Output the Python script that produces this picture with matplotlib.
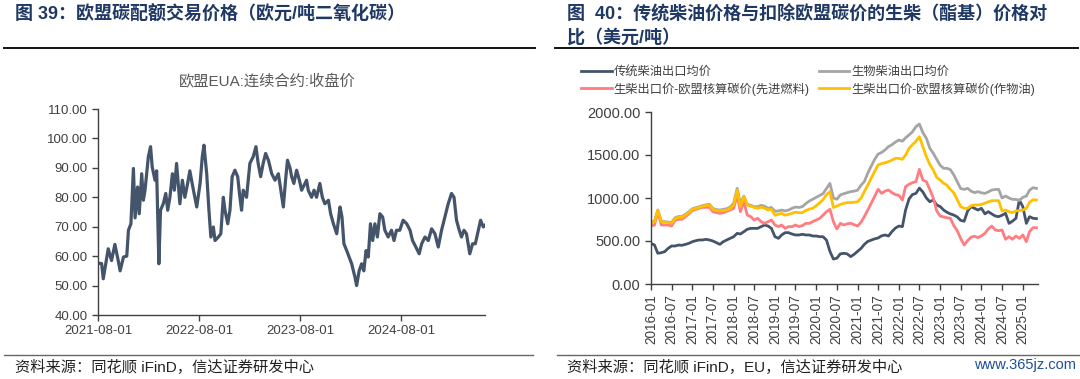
import matplotlib
matplotlib.use('Agg')
import matplotlib.pyplot as plt
import matplotlib.dates as mdates
from matplotlib.ticker import FormatStrFormatter
from matplotlib.lines import Line2D
import pandas as pd

plt.rcParams['font.family'] = ['Liberation Sans', 'Noto Sans CJK SC']

# ---- 左图：欧盟EUA收盘价（日期 = 2021-08-01 之后的天数）----
eua_day = [0, 13, 19, 28, 37, 49, 61, 73, 80, 92, 104, 110, 119, 128, 134, 143, 149, 158, 164, 170,
           182, 190, 196, 206, 212, 220, 226, 236, 245, 252, 260, 269, 276, 284, 296, 305, 314, 324,
           332, 345, 357, 369, 377, 383, 393, 401, 408, 417, 423, 435, 444, 453, 459, 469, 477, 485,
           495, 505, 513, 519, 525, 537, 549, 561, 571, 579, 588, 597, 606, 616, 628, 640, 652, 661,
           670, 678, 685, 694, 700, 708, 718, 728, 736, 748, 754, 760, 772, 781, 790, 802, 811, 820,
           833, 841, 851, 863, 875, 882, 889, 899, 908, 917, 929, 935, 944, 953, 961, 969, 977, 985,
           993, 1001, 1010, 1019, 1029, 1037, 1049, 1061, 1070, 1079, 1091, 1103, 1116, 1128, 1137,
           1149, 1161, 1170, 1182, 1194, 1206, 1218, 1230, 1242, 1254, 1266, 1278, 1287, 1296, 1306,
           1314, 1323, 1332, 1344, 1354, 1364, 1375, 1383, 1393, 1399]
eua_close = [57.6, 57.5, 52.3, 57.5, 62.5, 58.5, 64.0, 58.5, 55.0, 59.7, 60.0, 68.8, 71.0, 89.8, 73.0,
             83.5, 74.4, 88.0, 79.0, 82.4, 93.8, 97.2, 90.3, 85.8, 89.0, 57.4, 75.6, 77.8, 81.3, 75.6,
             80.0, 88.0, 82.4, 91.5, 77.8, 85.8, 80.0, 84.7, 89.0, 82.4, 76.7, 84.7, 93.8, 97.7, 88.0,
             75.6, 66.5, 69.9, 65.3, 66.5, 67.6, 80.0, 75.6, 71.0, 75.6, 87.0, 89.2, 87.0, 80.0, 75.6,
             82.4, 80.0, 91.5, 93.8, 97.2, 91.5, 87.0, 91.5, 94.9, 92.6, 88.0, 85.8, 88.0, 82.4, 76.7,
             85.8, 92.6, 90.0, 87.0, 84.7, 89.2, 85.8, 82.4, 84.7, 85.8, 82.4, 80.0, 82.4, 80.0, 84.7,
             80.0, 77.8, 79.0, 74.4, 71.0, 67.6, 76.7, 73.3, 64.2, 61.9, 59.7, 57.4, 52.8, 50.0, 55.0,
             57.4, 55.0, 61.9, 59.7, 71.0, 65.3, 71.0, 66.5, 74.4, 73.3, 68.8, 66.5, 68.8, 65.3, 68.8,
             68.8, 72.2, 71.0, 68.8, 65.3, 63.1, 60.8, 64.2, 66.5, 65.3, 69.3, 67.6, 63.1, 68.8, 73.3,
             77.8, 81.3, 80.0, 72.2, 68.8, 66.5, 68.8, 67.6, 60.8, 64.2, 64.2, 68.8, 72.2, 69.9, 70.5]
eua_ticks = ['2021-08-01', '2022-08-01', '2023-08-01', '2024-08-01']

# ---- 右图：月度价格，2016-01 至 2025-05（美元/吨）----
diesel_export = [473, 453, 357, 364, 376, 415, 442, 442, 453, 450, 461, 473,
                 492, 504, 512, 512, 519, 512, 500, 481, 461, 492, 512, 531,
                 550, 589, 581, 608, 636, 647, 647, 647, 667, 686, 674, 647,
                 550, 531, 570, 597, 597, 581, 570, 570, 578, 570, 570, 558,
                 558, 550, 550, 510, 380, 290, 300, 350, 357, 350, 318, 345,
                 380, 415, 460, 495, 510, 525, 535, 560, 570, 558, 610, 650,
                 674, 667, 860, 990, 1040, 1054, 1115, 1070, 1000, 957, 977, 920,
                 900, 860, 835, 815, 802, 780, 740, 730, 850, 900, 880, 860,
                 880, 815, 841, 815, 791, 783, 800, 822, 705, 730, 764, 977,
                 899, 705, 783, 764, 760]
biodiesel_export = [715, 730, 860, 730, 725, 720, 715, 770, 785, 785, 812, 840,
                    875, 888, 898, 912, 920, 926, 878, 865, 860, 868, 875, 895,
                    940, 1112, 938, 1023, 926, 915, 899, 899, 915, 905, 880, 890,
                    845, 850, 860, 849, 860, 880, 895, 890, 900, 935, 965, 985,
                    1008, 1030, 1050, 1112, 1170, 1000, 985, 1035, 1050, 1062, 1074, 1080,
                    1090, 1150, 1190, 1290, 1370, 1450, 1510, 1530, 1560, 1597, 1620, 1650,
                    1674, 1660, 1700, 1733, 1770, 1830, 1860, 1760, 1694, 1580, 1519, 1450,
                    1380, 1345, 1345, 1330, 1270, 1190, 1110, 1100, 1112, 1080, 1062, 1074,
                    1060, 1054, 1070, 1093, 1098, 1101, 1000, 1023, 1000, 984, 984, 970,
                    1008, 1023, 1090, 1120, 1112]
net_advanced = [674, 686, 841, 686, 686, 686, 674, 740, 752, 752, 783, 815,
                853, 868, 880, 891, 891, 891, 841, 830, 822, 829, 845, 860,
                880, 1035, 841, 957, 802, 783, 744, 764, 725, 705, 725, 744,
                686, 667, 686, 647, 667, 667, 686, 667, 680, 705, 705, 725,
                744, 764, 800, 841, 868, 725, 640, 705, 686, 700, 705, 690,
                674, 720, 783, 860, 938, 1020, 1101, 1054, 1080, 1093, 1062, 1040,
                1030, 977, 1132, 1160, 1178, 1190, 1333, 1209, 1190, 1100, 1000, 850,
                790, 780, 770, 764, 680, 620, 530, 453, 505, 545, 555, 539,
                560, 590, 640, 674, 630, 620, 628, 520, 550, 520, 558, 531,
                570, 492, 610, 655, 655]
net_crop = [705, 725, 860, 725, 718, 713, 705, 760, 775, 775, 802, 830,
            868, 880, 890, 905, 912, 919, 868, 855, 849, 855, 860, 880,
            920, 1093, 899, 1015, 919, 905, 890, 880, 895, 880, 860, 870,
            800, 810, 822, 800, 810, 822, 835, 830, 830, 855, 870, 880,
            910, 945, 980, 1040, 1074, 890, 905, 925, 938, 946, 946, 950,
            957, 1000, 1074, 1150, 1229, 1310, 1384, 1400, 1410, 1422, 1440, 1461,
            1461, 1450, 1500, 1577, 1620, 1660, 1713, 1597, 1480, 1390, 1326, 1240,
            1209, 1170, 1151, 1100, 1060, 980, 900, 880, 880, 910, 919, 919,
            925, 940, 955, 969, 969, 969, 850, 860, 840, 830, 849, 855,
            860, 880, 950, 980, 977]
series_labels = ['传统柴油出口均价', '生物柴油出口均价',
                 '生柴出口价-欧盟核算碳价(先进燃料)', '生柴出口价-欧盟核算碳价(作物油)']
series_colors = ['#44546A', '#A5A5A5', '#FF7C80', '#FFC000']

W, H = 1080, 379
fig = plt.figure(figsize=(W / 100, H / 100), dpi=100)
TXT = '#404040'
TITLE_C = '#1F3864'


def fx(px):
    return px / W


def fy(py):
    return 1 - py / H


def style_axes(ax):
    for s in ['top', 'right']:
        ax.spines[s].set_visible(False)
    for s in ['left', 'bottom']:
        ax.spines[s].set_color('#404040')
        ax.spines[s].set_linewidth(1)
    ax.tick_params(direction='out', length=4, width=1, color='#404040', labelcolor=TXT)


# 页眉标题和分隔线
fig.text(fx(15), fy(15), '图 39：欧盟碳配额交易价格（欧元/吨二氧化碳）', fontsize=13,
         fontweight='bold', color=TITLE_C, va='center', ha='left')
fig.text(fx(567), fy(14), '图  40：传统柴油价格与扣除欧盟碳价的生柴（酯基）价格对', fontsize=13,
         fontweight='bold', color=TITLE_C, va='center', ha='left')
fig.text(fx(567), fy(38), '比（美元/吨）', fontsize=13, fontweight='bold', color=TITLE_C,
         va='center', ha='left')
fig.add_artist(Line2D([fx(4), fx(535)], [fy(48), fy(48)], color='#111111', lw=1.4))
fig.add_artist(Line2D([fx(555), fx(1078)], [fy(48), fy(48)], color='#111111', lw=1.4))
fig.add_artist(Line2D([fx(4), fx(533)], [fy(355), fy(355)], color='#666666', lw=1))
fig.add_artist(Line2D([fx(557), fx(1080)], [fy(355), fy(355)], color='#666666', lw=1))
fig.text(fx(15), fy(367), '资料来源：同花顺 iFinD，信达证券研发中心', fontsize=11,
         color='#222222', va='center', ha='left')
fig.text(fx(567), fy(367), '资料来源：同花顺 iFinD，EU，信达证券研发中心', fontsize=11,
         color='#222222', va='center', ha='left')
fig.text(fx(1076), fy(365), 'www.365jz.com', fontsize=10.5, color='#1F4E9A',
         va='center', ha='right')

# --- 左图 ---
eua_dates = pd.Timestamp('2021-08-01') + pd.to_timedelta(eua_day, unit='D')
ax1 = fig.add_axes([fx(98), fy(315), fx(485) - fx(98), fy(109) - fy(315)])
ax1.plot(eua_dates, eua_close, color='#44546A', lw=2.3)
ax1.set_ylim(40, 110)
ax1.set_yticks(range(40, 111, 10))
ax1.yaxis.set_major_formatter(FormatStrFormatter('%.2f'))
ax1.set_xlim(eua_dates[0], eua_dates[-1])
ax1.set_xticks(pd.to_datetime(eua_ticks))
ax1.xaxis.set_major_formatter(mdates.DateFormatter('%Y-%m-%d'))
style_axes(ax1)
ax1.tick_params(labelsize=9.5)
fig.text(fx(267), fy(81), '欧盟EUA:连续合约:收盘价', fontsize=11, color='#595959',
         ha='center', va='center')

# --- 右图 ---
months = pd.date_range('2016-01-01', periods=len(diesel_export), freq='MS')
ax2 = fig.add_axes([fx(651), fy(284), fx(1038) - fx(651), fy(112) - fy(284)])
for vals, lab, col in zip([diesel_export, biodiesel_export, net_advanced, net_crop],
                          series_labels, series_colors):
    ax2.plot(months, vals, color=col, lw=2, label=lab)
# 图例顺序：蓝、灰 / 红、黄 按行排列
h, l = ax2.get_legend_handles_labels()
order = [0, 2, 1, 3]
fig.legend([h[i] for i in order], [l[i] for i in order], ncol=2, loc='upper left',
           bbox_to_anchor=(fx(581), fy(66)), frameon=False, fontsize=8.8,
           handlelength=2.5, handletextpad=0.15, columnspacing=0.75,
           labelspacing=0.35, borderpad=0, borderaxespad=0, labelcolor=TXT)
ax2.set_ylim(0, 2000)
ax2.set_yticks(range(0, 2001, 500))
ax2.yaxis.set_major_formatter(FormatStrFormatter('%.2f'))
ax2.set_xlim(months[0], pd.Timestamp('2025-05-15'))
ax2.set_xticks(pd.date_range('2016-01-01', '2025-01-01', freq='6MS'))
ax2.xaxis.set_major_formatter(mdates.DateFormatter('%Y-%m'))
style_axes(ax2)
ax2.tick_params(axis='y', labelsize=10.5)
ax2.tick_params(axis='x', labelsize=9.8, labelrotation=90)

fig.savefig('out.png', dpi=100)
